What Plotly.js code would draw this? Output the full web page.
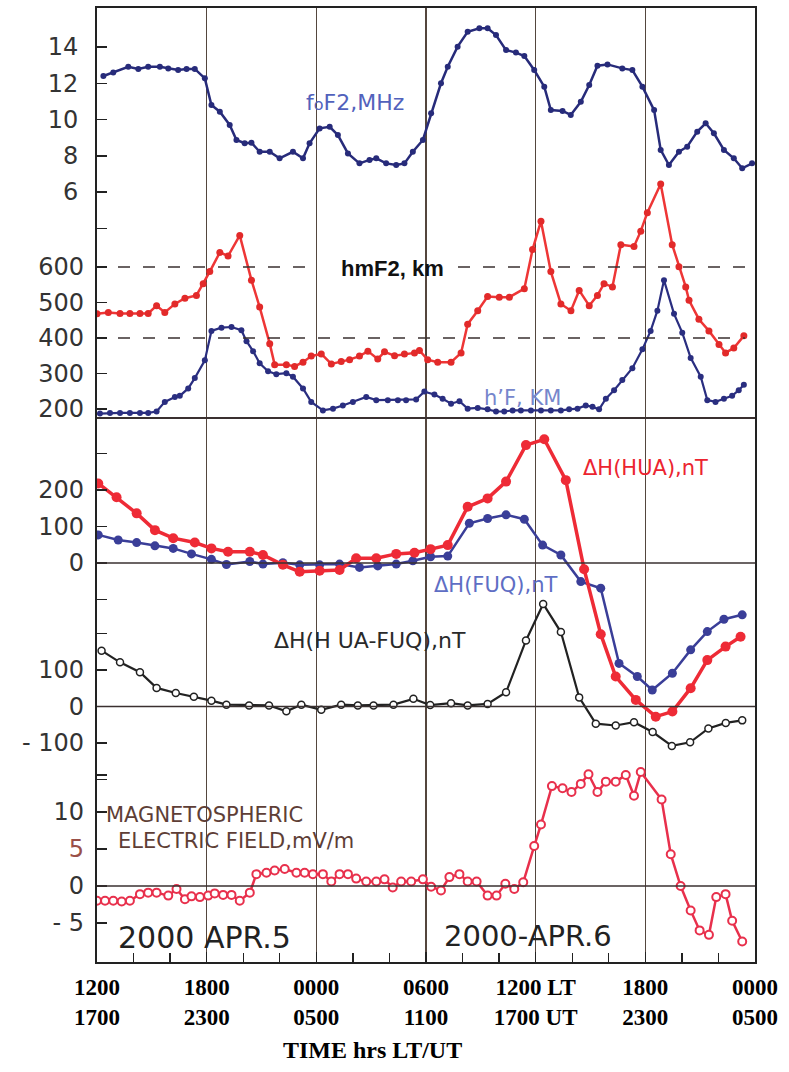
<!DOCTYPE html>
<html><head><meta charset="utf-8">
<script src="https://cdn.plot.ly/plotly-3.0.1.min.js"></script>
<style>html,body{margin:0;padding:0;background:#fff}#chart{width:789px;height:1072px}</style>
</head><body><div id="chart"></div>
<script>
// ---- time axis: hours after 1200 LT, 2000 Apr 5 ----
const xTickVals = [0, 6, 12, 18, 24, 30, 36];
const xTickText = ["1200<br>1700", "1800<br>2300", "0000<br>0500", "0600<br>1100", "1200 LT<br>1700 UT", "1800<br>2300", "0000<br>0500"];

// ---- foF2, MHz ----
const foF2_t = [0.35,0.89,1.71,2.26,2.80,3.44,3.90,4.44,4.90,5.35,5.90,6.26,6.72,7.26,7.63,8.08,8.45,8.90,9.45,9.99,10.72,11.27,11.63,12.18,12.73,13.18,13.73,14.36,14.91,15.28,15.82,16.37,16.82,17.28,17.83,18.28,18.82,19.19,19.73,20.28,20.92,21.37,21.83,22.38,22.92,23.38,23.92,24.47,24.83,25.47,25.92,26.47,26.93,27.38,27.93,28.74,29.29,29.84,30.48,30.84,31.29,31.84,32.29,32.84,33.30,33.75,34.30,34.84,35.30,35.84];
const foF2_v = [12.40,12.60,12.91,12.79,12.91,12.91,12.82,12.73,12.79,12.79,12.27,10.80,10.43,9.70,8.87,8.69,8.72,8.22,8.22,7.86,8.22,7.86,8.69,9.51,9.60,9.14,8.13,7.58,7.77,7.86,7.58,7.49,7.58,8.22,8.87,10.34,12.0,12.91,14.02,14.84,15.03,15.03,14.66,13.83,13.69,13.50,12.73,11.81,10.52,10.47,10.25,10.98,11.90,12.97,13.04,12.82,12.73,11.81,10.52,8.32,7.49,8.22,8.50,9.33,9.79,9.24,8.32,7.86,7.31,7.58];

// ---- hmF2, km ----
const hmF2_t = [0,0.62,1.26,1.80,2.35,2.80,3.26,3.71,4.26,4.81,5.44,5.81,6.17,6.72,7.17,7.81,8.45,8.90,9.45,9.72,10.36,10.81,11.27,11.72,12.27,12.82,13.36,13.82,14.36,14.82,15.36,15.73,16.28,16.82,17.37,17.64,18.09,18.64,19.37,19.92,20.28,20.83,21.37,22.01,22.56,23.38,23.83,24.29,24.83,25.38,25.93,26.38,26.93,27.38,27.74,28.20,28.66,29.38,29.75,30.11,30.84,31.47,31.84,32.21,32.39,32.93,33.48,34.03,34.39,34.84,35.39];
const hmF2_v = [468,472,469,469,469,469,491,472,496,512,520,553,587,641,631,689,563,487,384,325,325,320,332,349,355,327,334,339,349,363,341,361,350,355,358,365,339,332,332,358,439,477,517,515,515,539,649,729,587,496,477,534,491,520,553,544,663,658,701,753,834,663,601,544,506,453,420,382,358,372,406];

// ---- h'F, km ----
const hF_t = [0.16,0.71,1.26,1.80,2.35,2.80,3.26,3.71,4.26,4.53,4.99,5.35,5.90,6.26,6.81,7.36,7.90,8.18,8.54,8.90,9.36,9.81,10.36,10.72,11.27,11.72,12.36,12.91,13.45,14.00,14.73,15.28,15.91,16.46,16.91,17.46,17.91,18.46,18.91,19.37,19.83,20.28,20.83,21.37,21.83,22.28,22.74,23.19,23.74,24.29,24.83,25.38,25.83,26.29,26.74,27.11,27.47,27.84,28.29,28.74,29.29,29.84,30.29,30.66,31.02,31.57,32.02,32.48,33.03,33.39,33.84,34.30,34.75,35.11,35.39];
const hF_v = [187,189,189,189,189,189,193,220,234,237,258,287,337,420,429,431,422,391,363,329,306,298,301,291,258,220,196,201,210,220,234,225,225,225,225,227,249,241,229,215,222,201,203,199,193,193,196,196,196,196,196,196,199,201,210,206,199,229,253,282,315,368,420,477,563,468,415,344,291,225,220,229,237,253,268];

// ---- Delta H (HUA), nT ----
const hua_t = [0.07,1.07,2.17,3.17,4.17,5.35,6.26,7.17,8.36,9.08,10.17,11.09,12.18,13.27,14.18,15.28,16.37,17.37,18.25,19.19,20.28,21.37,22.38,23.47,24.47,25.65,26.65,27.56,28.38,29.48,30.57,31.48,32.48,33.39,34.39,35.21];
const hua_v = [218,180,136,90,68,56,40,31,31,22,-5,-24,-21,-19,13,13,25,28,38,49,154,177,223,323,339,227,-17,-195,-311,-375,-421,-407,-343,-266,-229,-202];

// ---- Delta H (FUQ), nT ----
const fuq_t = [0.07,1.16,2.17,3.17,4.17,5.17,6.26,7.08,8.36,9.08,10.17,11.09,12.18,13.27,14.36,15.36,16.37,17.28,18.25,19.19,20.37,21.37,22.38,23.38,24.38,25.38,26.47,27.56,28.56,29.56,30.38,31.48,32.48,33.39,34.30,35.30];
const fuq_v = [77,63,56,47,40,25,10,-4,4,-3,1,-5,-5,-3,-12,-8,-3,6,17,19,109,122,132,120,49,22,-51,-69,-275,-311,-348,-302,-238,-188,-154,-142];

// ---- Delta H (HUA-FUQ), nT ----
const diff_t = [0.25,1.26,2.35,3.26,4.31,5.30,6.26,7.08,8.32,9.41,10.36,11.18,12.27,13.36,14.27,15.13,16.22,17.31,18.23,19.37,20.28,21.37,22.38,23.47,24.41,25.38,26.38,27.29,28.38,29.38,30.4,31.45,32.45,33.45,34.4,35.3];
const diff_v = [153,121,94,51,37,27,16,5,3,3,-13,5,-9,5,3,3,5,21,4,9,3,7,39,181,281,204,25,-47,-52,-43,-70,-108,-98,-60,-45,-38];

// ---- Magnetospheric electric field, mV/m ----
const ef_t = [0,0.44,0.89,1.35,1.80,2.35,2.80,3.26,3.90,4.35,4.81,5.17,5.63,6.08,6.44,6.90,7.36,7.81,8.36,8.72,9.27,9.72,10.27,10.91,11.36,11.81,12.36,12.82,13.27,13.73,14.18,14.73,15.28,15.73,16.18,16.64,17.19,17.83,18.28,18.82,19.28,19.83,20.28,20.77,21.37,21.86,22.34,22.83,23.32,23.92,24.29,24.89,25.47,25.96,26.47,26.89,27.38,27.84,28.38,28.93,29.38,29.75,30.89,31.39,31.93,32.48,32.97,33.48,33.88,34.39,34.75,35.30];
const ef_v = [-2.0,-2.0,-2.0,-2.1,-2.0,-1.1,-0.9,-0.9,-1.3,-0.4,-1.8,-1.4,-1.5,-1.3,-1.0,-1.2,-1.2,-2.0,-0.9,1.6,1.8,2.1,2.3,1.8,1.8,1.6,1.6,0.6,1.6,1.6,1.0,0.6,0.6,0.9,-0.2,0.6,0.6,0.9,-0.1,-0.6,1.2,1.6,0.6,0.6,-1.3,-1.3,0.3,-0.4,0.5,5.4,8.3,13.5,13.2,12.7,13.8,15.1,12.7,14.1,14.1,15.0,12.2,15.4,11.7,4.3,0.0,-3.3,-6.0,-6.6,-1.5,-1.1,-4.7,-7.5];

// ---- y tick labels ----
const y1Vals = [4, 6, 8, 10, 12, 14];       const y1Text = ["", "6", "8", "10", "12", "14"];
const y2Vals = [200, 300, 400, 500, 600];   const y2Text = ["200", "300", "400", "500", "600"];
const y3Vals = [-100, 0, 100, 200, 300];    const y3Text = ["", "0", "100", "200", ""];
const y4Vals = [-200, -100, 0, 100, 200];   const y4Text = ["", "- 100", "0", "100", ""];
const y5Vals = [-5, 0, 5, 10, 15];          const y5Text = ["- 5", "0", "<span style='color:#9a5048'>5</span>", "10", ""];

// ---- geometry (pixels) ----
const W = 789, H = 1072, L = 97, R = 755, T = 8, B = 962;
function rng(v1, p1, v2, p2) { const k = (p2 - p1) / (v1 - v2); return [v2 - (B - p2) / k, v1 + (p1 - T) / k]; }
function px(x) { return (x - L) / (R - L); }
function py(y) { return (B - y) / (B - T); }

const navy = '#272b7a';
const traces = [
  {x: foF2_t, y: foF2_v, yaxis: 'y', mode: 'lines+markers', line: {color: navy, width: 2.5}, marker: {size: 6, color: navy}},
  {x: hmF2_t, y: hmF2_v, yaxis: 'y2', mode: 'lines+markers', line: {color: '#ee3636', width: 2.5}, marker: {size: 7, color: '#e22a2a'}},
  {x: hF_t, y: hF_v, yaxis: 'y2', mode: 'lines+markers', line: {color: '#2a2e80', width: 2.2}, marker: {size: 6, color: '#2a2e80'}},
  {x: fuq_t, y: fuq_v, yaxis: 'y3', mode: 'lines+markers', line: {color: '#3a3e98', width: 2.5}, marker: {size: 9, color: '#3a3e98'}},
  {x: hua_t, y: hua_v, yaxis: 'y3', mode: 'lines+markers', line: {color: '#ee2b36', width: 3.5}, marker: {size: 10, color: '#ee2b36'}},
  {x: diff_t, y: diff_v, yaxis: 'y4', mode: 'lines+markers', line: {color: '#222', width: 2.2}, marker: {size: 7, color: '#fff', line: {color: '#222', width: 1.5}}},
  {x: ef_t, y: ef_v, yaxis: 'y5', mode: 'lines+markers', line: {color: '#e8304c', width: 2.5}, marker: {size: 8, color: '#fff', line: {color: '#e8304c', width: 2}}}
];

const yFont = {family: 'DejaVu Sans', size: 24, color: '#333'};
function yax(vals, text, r, extra) {
  return Object.assign({
    range: r, tickmode: 'array', tickvals: vals, ticktext: text,
    ticks: 'inside', ticklen: 10, tickwidth: 1.5, tickcolor: '#222',
    tickfont: yFont, ticklabelstandoff: 12,
    showgrid: false, zeroline: false, showline: false, fixedrange: true
  }, extra || {});
}

const lineCol = '#3a3030';
function hline(yref, yv, x0, x1, dash, w) {
  return {type: 'line', xref: 'paper', yref: yref, x0: x0, x1: x1, y0: yv, y1: yv,
          line: {color: lineCol, width: w || 1.3, dash: dash || 'solid'}};
}
const shapes = [
  hline('y2', 600, px(118), px(312), '12px,13px', 1.5),
  hline('y2', 600, px(458), px(745), '12px,13px', 1.5),
  hline('y2', 400, px(118), px(745), '12px,13px', 1.5),
  hline('paper', py(418), 0, 1, 'solid', 1.8),
  hline('y3', 0, 0, 1, 'solid', 1.3),
  hline('y4', 0, 0, 1, 'solid', 1.3),
  hline('y5', 0, 0, 1, 'solid', 1.3)
];

function ann(text, x, y, font, xanchor) {
  return {text: text, x: px(x), y: py(y), xref: 'paper', yref: 'paper', showarrow: false,
          xanchor: xanchor || 'center', yanchor: 'middle', font: font};
}
const sans = 'DejaVu Sans';
const annotations = [
  ann("f<span style='font-size:16px'>o</span>F2,MHz", 355, 102, {family: sans, size: 22, color: '#5262bc'}),
  ann("<b>hmF2, km</b>", 392, 268, {family: 'Liberation Sans', size: 22, color: '#111'}),
  ann("h’F, KM", 522, 398, {family: sans, size: 21, color: '#7686cc'}),
  ann("ΔH(HUA),nT", 645, 468, {family: sans, size: 21, color: '#ec2430'}),
  ann("ΔH(FUQ),nT", 496, 585, {family: sans, size: 21, color: '#5e6ec4'}),
  ann("ΔH(H UA-FUQ),nT", 370, 640, {family: sans, size: 22, color: '#2a2a2a'}),
  ann("MAGNETOSPHERIC", 104, 815, {family: sans, size: 21, color: '#5e3e36'}, 'left'),
  ann("ELECTRIC FIELD,mV/m", 116, 841, {family: sans, size: 21, color: '#5e3e36'}, 'left'),
  ann("2000 APR.5", 116, 937, {family: sans, size: 30, color: '#222'}, 'left'),
  ann("2000-APR.6", 442, 936, {family: sans, size: 29, color: '#222'}, 'left'),
  ann("<b>TIME hrs LT/UT</b>", 372, 1050, {family: 'Liberation Serif', size: 24, color: '#000'})
];

const layout = {
  width: W, height: H,
  margin: {l: L, r: W - R, t: T, b: H - B},
  paper_bgcolor: '#fff', plot_bgcolor: '#fff',
  showlegend: false,
  xaxis: {
    range: [0, 36], tickmode: 'array', tickvals: xTickVals, ticktext: xTickText.map(s => '<b>' + s + '</b>'),
    ticks: 'inside', ticklen: 10, tickwidth: 1.5, tickcolor: '#222',
    minor: {tickmode: 'linear', tick0: 0, dtick: 2, ticks: 'inside', ticklen: 9, tickwidth: 1.3, tickcolor: '#222', showgrid: false},
    tickfont: {family: 'Liberation Serif', size: 23, color: '#000'}, ticklabelstandoff: 3,
    showline: true, linecolor: '#222', linewidth: 2, mirror: true,
    showgrid: true, gridcolor: '#54463e', gridwidth: 1.4, zeroline: false, fixedrange: true
  },
  yaxis: yax(y1Vals, y1Text, rng(14, 47, 6, 192), {showline: true, linecolor: '#222', linewidth: 2, mirror: true}),
  yaxis2: yax(y2Vals, y2Text, rng(600, 267, 400, 338), {overlaying: 'y', anchor: 'x', side: 'left'}),
  yaxis3: yax(y3Vals, y3Text, rng(200, 490, 0, 563), {overlaying: 'y', anchor: 'x', side: 'left'}),
  yaxis4: yax(y4Vals, y4Text, rng(100, 670, -100, 743), {overlaying: 'y', anchor: 'x', side: 'left'}),
  yaxis5: yax(y5Vals, y5Text, rng(10, 812, 0, 886), {overlaying: 'y', anchor: 'x', side: 'left'}),
  shapes: shapes,
  annotations: annotations
};

Plotly.newPlot('chart', traces, layout, {staticPlot: true, displayModeBar: false});
</script>
</body></html>
